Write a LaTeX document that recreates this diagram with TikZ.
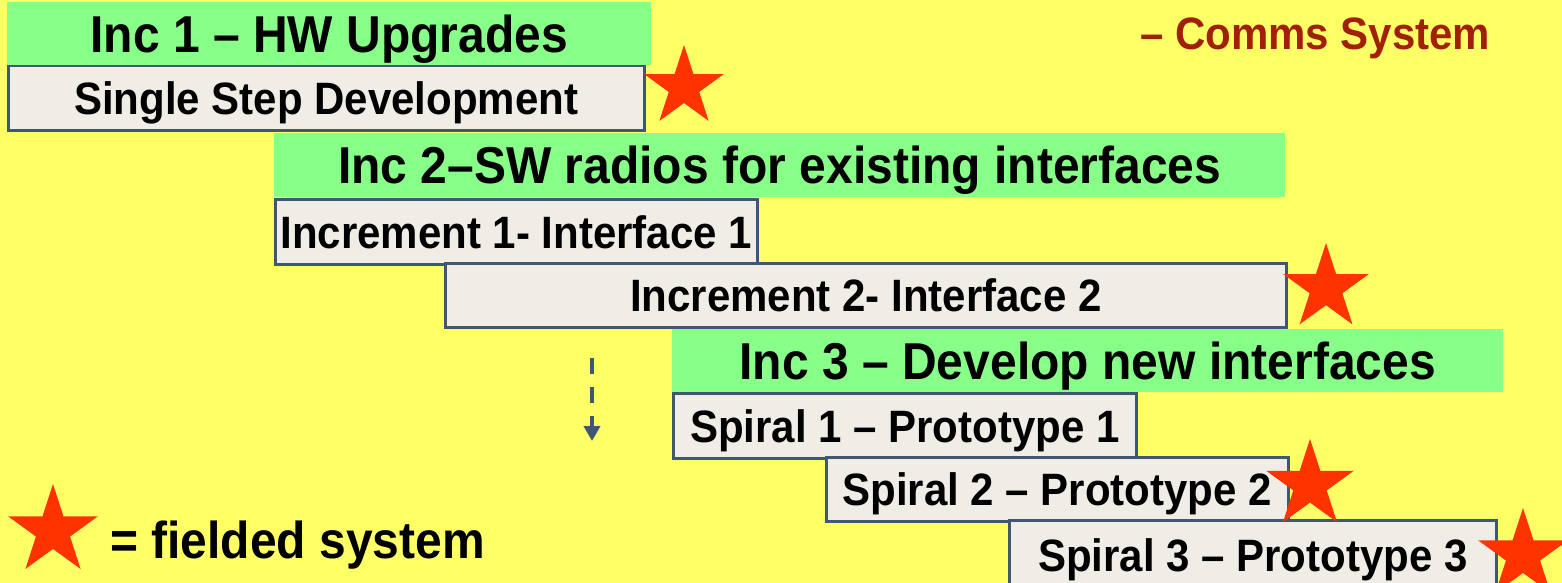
\documentclass[tikz,border=0pt]{standalone}
\usepackage{fontspec}
\usepackage{graphicx}
\setmainfont{Liberation Sans}
\usetikzlibrary{shapes.geometric,arrows.meta}
\definecolor{bgyellow}{HTML}{FFFF66}
\definecolor{incgreen}{HTML}{88FF88}
\definecolor{stepfill}{HTML}{F0EDE6}
\definecolor{stepline}{HTML}{3F5770}
\definecolor{starred}{HTML}{FF3300}
\definecolor{commsred}{HTML}{A0200A}
% slightly tall lettering
\newcommand{\tl}[1]{\scalebox{1}[1.08]{#1}}
\begin{document}
\begin{tikzpicture}[x=1pt,y=-1pt,
  bigfont/.style={font=\fontsize{48}{52}\bfseries\selectfont, text height=37pt, text depth=0pt},
  midfont/.style={font=\fontsize{42}{46}\bfseries\selectfont, text height=32.5pt, text depth=0pt},
  incbox/.style={bigfont, fill=incgreen, inner sep=0pt, anchor=north west},
  stepbox/.style={midfont, fill=stepfill, draw=stepline, line width=2.5pt, inner sep=0pt, anchor=north west},
  fielded/.style={star, star points=5, star point ratio=2.618, fill=starred, inner sep=0pt},
]
% background
\fill[bgyellow] (0,0) rectangle (1562,583);
\useasboundingbox (0,0) rectangle (1562,583);

% increment headers
\node[incbox, minimum width=644pt, minimum height=63pt] (inc1) at (7,2) {\tl{Inc 1 – HW Upgrades}};
\node[incbox, minimum width=1011pt, minimum height=64pt] (inc2) at (274,133) {\tl{Inc 2–SW radios for existing interfaces}};
\node[incbox, minimum width=831pt, minimum height=63pt] (inc3) at (672,329) {\tl{Inc 3 – Develop new interfaces}};

% development steps
\node[stepbox, minimum width=636pt, minimum height=64pt] (ssd) at (7,65) {\tl{Single Step Development}};
\node[stepbox, minimum width=482pt, minimum height=65pt] (if1) at (274,198) {\tl{Increment 1- Interface 1}};
\node[stepbox, minimum width=841pt, minimum height=64pt] (if2) at (444,262) {\tl{Increment 2- Interface 2}};
\node[stepbox, minimum width=463pt, minimum height=65pt] (sp1) at (672,392) {\tl{Spiral 1 – Prototype 1}};
\node[stepbox, minimum width=462pt, minimum height=64pt] (sp2) at (825,456) {\tl{Spiral 2 – Prototype 2}};
\node[stepbox, minimum width=487pt, minimum height=70pt] (sp3) at (1008,519) {\tl{Spiral 3 – Prototype 3}};

% title fragment
\node[midfont, text=commsred, anchor=west, inner sep=0pt] (comms) at (1140,33) {\tl{– Comms System}};

% fielded-system markers
\node[fielded, minimum size=84pt] (st1) at (684,87) {};
\node[fielded, minimum size=90pt] (st2) at (1326,288) {};
\node[fielded, minimum size=92pt] (st3) at (1310,485) {};
\node[fielded, minimum size=94pt] (st4) at (1523,555) {};

% legend
\node[fielded, minimum size=94pt] (legstar) at (53,531) {};
\node[bigfont, anchor=west, inner sep=0pt] (legtext) at (110,540) {\tl{= fielded system}};

% continuation arrow
\coordinate (arrtop) at (592,358);
\coordinate (arrend) at (592,441);
\draw[stepline, line width=4pt, dash pattern=on 16pt off 13pt,
      -{Triangle[width=16pt,length=15pt]}] (arrtop) -- (arrend);
\end{tikzpicture}
\end{document}
